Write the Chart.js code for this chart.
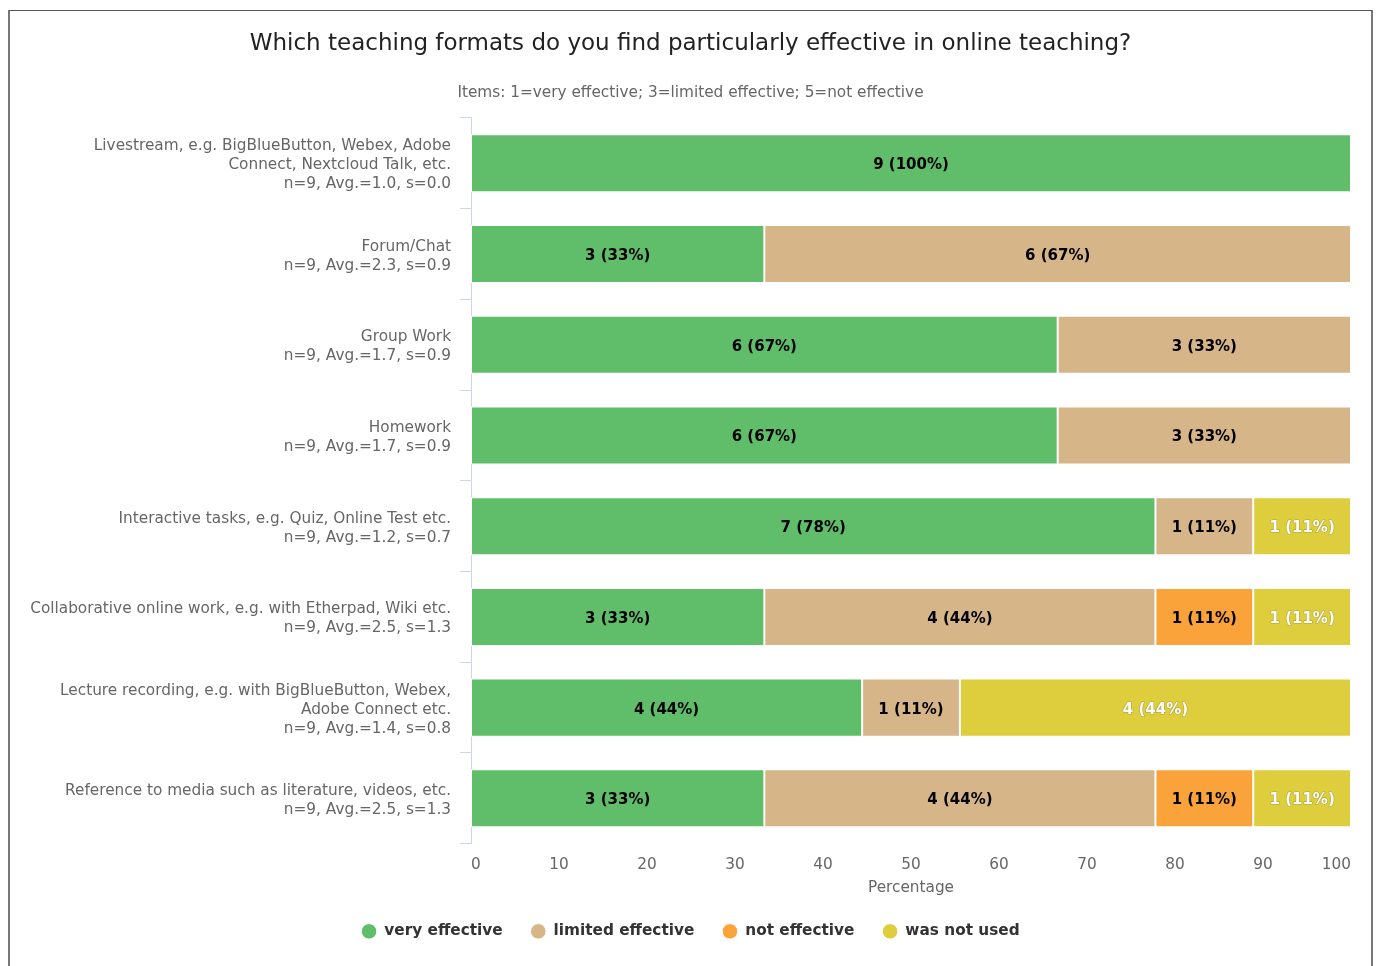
<!DOCTYPE html>
<html>
<head>
<meta charset="utf-8">
<script src="https://cdn.jsdelivr.net/npm/chart.js@4/dist/chart.umd.min.js"></script>
<style>
  html, body { margin: 0; padding: 0; background: #fff; }
  #frame { position: absolute; left: 8px; top: 10px; width: 1361px; height: 980px;
           border-left: 2px solid #777; border-right: 2px solid #777; border-top: 1px solid #555; }
  #wrap { position: absolute; left: 0; top: 0; width: 1377px; height: 966px; }
</style>
</head>
<body>
<div id="frame"></div>
<div id="wrap"><canvas id="c" width="1377" height="966"></canvas></div>
<script>
const titleText = 'Which teaching formats do you find particularly effective in online teaching?';
const subtitleText = 'Items: 1=very effective; 3=limited effective; 5=not effective';
const categories = [
  ['Livestream, e.g. BigBlueButton, Webex, Adobe', 'Connect, Nextcloud Talk, etc.', 'n=9, Avg.=1.0, s=0.0'],
  ['Forum/Chat', 'n=9, Avg.=2.3, s=0.9'],
  ['Group Work', 'n=9, Avg.=1.7, s=0.9'],
  ['Homework', 'n=9, Avg.=1.7, s=0.9'],
  ['Interactive tasks, e.g. Quiz, Online Test etc.', 'n=9, Avg.=1.2, s=0.7'],
  ['Collaborative online work, e.g. with Etherpad, Wiki etc.', 'n=9, Avg.=2.5, s=1.3'],
  ['Lecture recording, e.g. with BigBlueButton, Webex,', 'Adobe Connect etc.', 'n=9, Avg.=1.4, s=0.8'],
  ['Reference to media such as literature, videos, etc.', 'n=9, Avg.=2.5, s=1.3']
];
const seriesNames = ['very effective', 'limited effective', 'not effective', 'was not used'];
// counts of answers (n = 9 per item)
const veryEffective    = [9, 3, 6, 6, 7, 3, 4, 3];
const limitedEffective = [0, 6, 3, 3, 1, 4, 1, 4];
const notEffective     = [0, 0, 0, 0, 0, 1, 0, 1];
const wasNotUsed       = [0, 0, 0, 0, 1, 1, 4, 1];
const xTicks = [0, 10, 20, 30, 40, 50, 60, 70, 80, 90, 100];
const colors = ['#60BE6A', '#D6B588', '#FBA33B', '#DECE3E'];

const countSets = [veryEffective, limitedEffective, notEffective, wasNotUsed];
const totals = categories.map((_, i) => countSets.reduce((s, a) => s + a[i], 0));
const FONT = "'DejaVu Sans', sans-serif";
const FS = 15.3;

const datasets = countSets.map((counts, k) => ({
  label: seriesNames[k],
  data: counts.map((c, i) => c > 0 ? c / totals[i] * 100 : null),
  counts: counts,
  backgroundColor: colors[k],
  borderColor: '#ffffff',
  borderWidth: 1,
  borderSkipped: false,
  barPercentage: 0.64,
  categoryPercentage: 1.0
}));

const labelPlugin = {
  id: 'barLabels',
  afterDatasetsDraw(chart) {
    const ctx = chart.ctx;
    ctx.save();
    ctx.font = "bold 15px " + FONT;
    ctx.textAlign = 'center';
    ctx.textBaseline = 'middle';
    chart.data.datasets.forEach((ds, k) => {
      const meta = chart.getDatasetMeta(k);
      meta.data.forEach((el, i) => {
        const c = ds.counts[i];
        if (!c) return;
        const txt = c + ' (' + Math.round(c / totals[i] * 100) + '%)';
        const x = (el.x + el.base) / 2, y = el.y + 2;
        if (k === 3) {
          ctx.lineWidth = 1.2;
          ctx.strokeStyle = 'rgba(120,110,40,0.45)';
          ctx.lineJoin = 'round';
          ctx.strokeText(txt, x, y);
          ctx.fillStyle = '#ffffff';
        } else {
          ctx.fillStyle = '#000000';
        }
        ctx.fillText(txt, x, y);
      });
    });
    ctx.restore();
  }
};

new Chart(document.getElementById('c'), {
  type: 'bar',
  data: { labels: categories, datasets: datasets },
  plugins: [labelPlugin],
  options: {
    indexAxis: 'y',
    responsive: false,
    animation: false,
    layout: { padding: { left: 4, right: 0, top: 0, bottom: 17 } },
    scales: {
      x: {
        stacked: true, min: 0, max: 100,
        afterBuildTicks(scale) { scale.ticks = xTicks.map(v => ({ value: v })); },
        afterFit(scale) { scale.height = 52; },
        grid: { display: false, drawTicks: false, tickLength: 0 },
        border: { display: false },
        ticks: { color: '#666', font: { family: FONT, size: FS }, padding: 12, align: 'inner', maxRotation: 0 },
        title: { display: true, text: 'Percentage', color: '#666', font: { family: FONT, size: FS, lineHeight: 0.95 }, padding: { top: 0, bottom: 0 } }
      },
      y: {
        stacked: true,
        afterFit(scale) { scale.width = 467; },
        grid: { display: true, drawOnChartArea: false, color: '#ccd6eb', tickLength: 11, offset: true },
        border: { display: true, color: '#ccd6eb' },
        ticks: { color: '#666', font: { family: FONT, size: FS, lineHeight: 19 / FS }, padding: 9, autoSkip: false, labelOffset: 2 }
      },
      yRightSpace: {
        type: 'linear', axis: 'y', position: 'right', display: true,
        afterFit(scale) { scale.width = 26; },
        grid: { display: false, drawTicks: false },
        border: { display: false },
        ticks: { display: false }
      }
    },
    plugins: {
      title: { display: true, text: titleText, color: '#222', font: { family: FONT, size: 23, weight: 'normal' }, padding: { top: 30, bottom: 26.2 } },
      subtitle: { display: true, text: subtitleText, color: '#666', font: { family: FONT, size: FS }, padding: { top: 0, bottom: 15.8 } },
      legend: {
        position: 'bottom',
        labels: { usePointStyle: true, pointStyle: 'circle', boxHeight: 11, padding: 28,
                  color: '#333', font: { family: FONT, size: FS, weight: 'bold' } }
      },
      tooltip: { enabled: false }
    }
  }
});
</script>
</body>
</html>
